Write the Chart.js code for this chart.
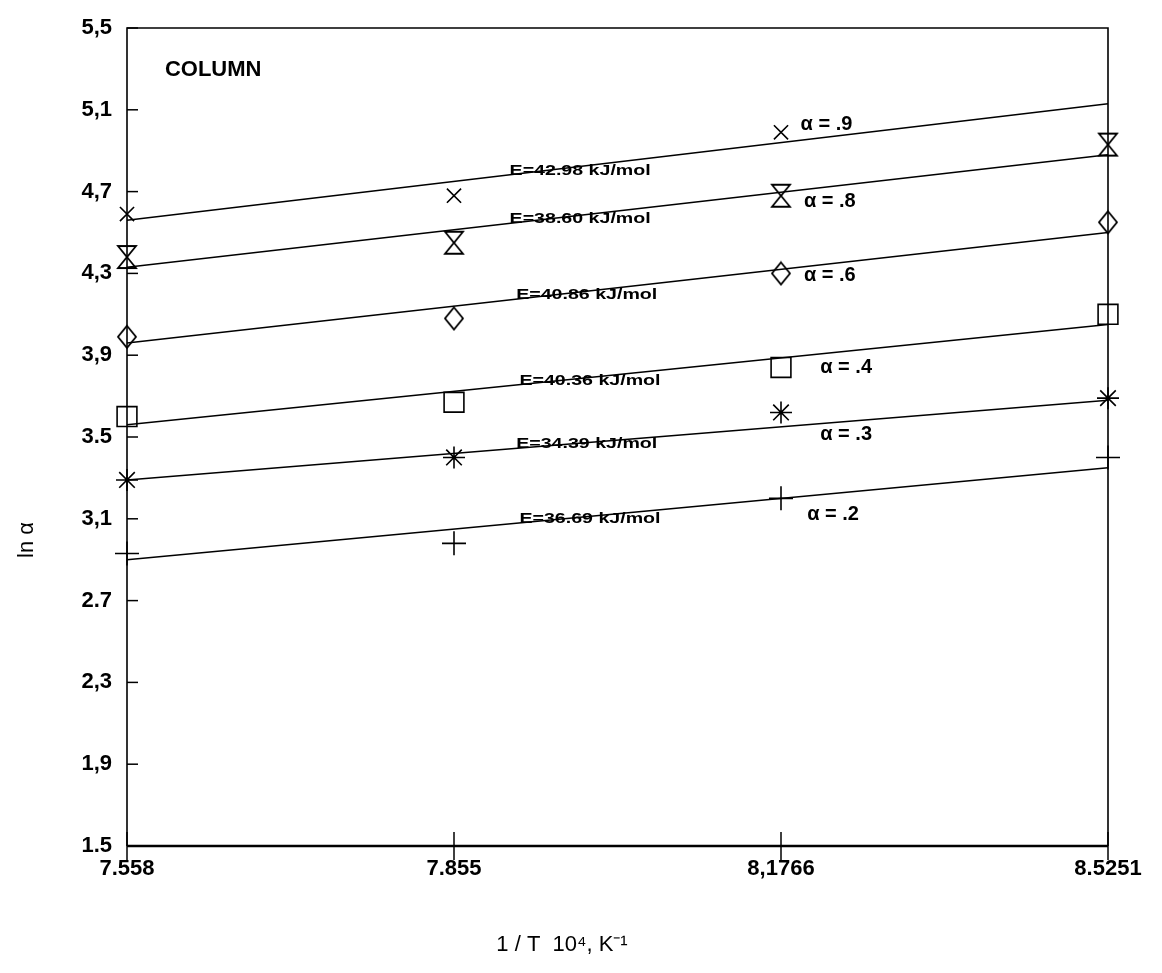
<!DOCTYPE html>
<html>
<head>
<meta charset="utf-8">
<title>ln alpha vs 1/T - column</title>
<script src="https://cdn.jsdelivr.net/npm/chart.js@4.4.1/dist/chart.umd.min.js"></script>
<style>
  html, body { margin: 0; padding: 0; background: #fff; }
  #wrap { width: 1162px; height: 973px; }
</style>
</head>
<body>
<div id="wrap"><canvas id="grafico" width="1162" height="973"></canvas></div>
<script>
// ---- data ----
const xLabels = ["7.558", "7.855", "8,1766", "8.5251"];
const yTickLabels = ["1.5", "1,9", "2,3", "2.7", "3,1", "3.5", "3,9", "4,3", "4,7", "5,1", "5,5"];

const alfa9 = [4.59, 4.68, 4.99, null];
const alfa8 = [4.38, 4.45, 4.68, 4.93];
const alfa6 = [3.99, 4.08, 4.30, 4.55];
const alfa4 = [3.60, 3.67, 3.84, 4.10];
const alfa3 = [3.29, 3.40, 3.62, 3.69];
const alfa2 = [2.93, 2.98, 3.20, 3.40];

// fitted lines: value at first and last category
const retaInicio = [4.56, 4.33, 3.96, 3.56, 3.29, 2.90];
const retaFim = [5.13, 4.88, 4.50, 4.05, 3.68, 3.35];

const nomesAlfa = ["α = .9", "α = .8", "α = .6", "α = .4", "α = .3", "α = .2"];
const energias = ["E=42.98 kJ/mol", "E=38.60 kJ/mol", "E=40.86 kJ/mol", "E=40.36 kJ/mol", "E=34.39 kJ/mol", "E=36.69 kJ/mol"];

// label placement (x as category index, y in axis units)
const posEnergiaX = [1.17, 1.17, 1.19, 1.20, 1.19, 1.20];
const posAlfa = [[2.06, 5.03], [2.07, 4.65], [2.07, 4.29], [2.12, 3.84], [2.12, 3.51], [2.08, 3.12]];

// ---- custom markers ----
function criarAmpulheta() {
    const c = document.createElement("canvas");
    c.width = 24; c.height = 26;
    const g = c.getContext("2d");
    g.strokeStyle = "#000";
    g.lineWidth = 1.8;
    g.beginPath();
    g.moveTo(3, 2); g.lineTo(21, 2); g.lineTo(12, 13); g.closePath();
    g.moveTo(12, 13); g.lineTo(21, 24); g.lineTo(3, 24); g.closePath();
    g.stroke();
    return c;
}

function criarLosango() {
    const c = document.createElement("canvas");
    c.width = 22; c.height = 26;
    const g = c.getContext("2d");
    g.strokeStyle = "#000";
    g.lineWidth = 1.8;
    g.beginPath();
    g.moveTo(11, 2); g.lineTo(20, 13); g.lineTo(11, 24); g.lineTo(2, 13); g.closePath();
    g.stroke();
    return c;
}

const series = [alfa9, alfa8, alfa6, alfa4, alfa3, alfa2];
const estilos = ["crossRot", criarAmpulheta(), criarLosango(), "rect", "star", "cross"];
const raios = [10, 12, 11, 14, 11, 12];

const datasets = [];
series.forEach((s, i) => {
    datasets.push({
        label: nomesAlfa[i],
        data: s,
        showLine: false,
        pointStyle: estilos[i],
        pointRadius: raios[i],
        pointBorderWidth: 1.6,
        borderColor: "#000",
        backgroundColor: "rgba(0,0,0,0)"
    });
    const reta = xLabels.map(() => null);
    reta[0] = retaInicio[i];
    reta[xLabels.length - 1] = retaFim[i];
    datasets.push({
        label: "fit " + nomesAlfa[i],
        data: reta,
        spanGaps: true,
        borderColor: "#000",
        borderWidth: 1.5,
        pointRadius: 0
    });
});

// frame, tick marks, labels, axis titles
const moldura = {
    id: "moldura",
    afterDraw(chart) {
        const { ctx, chartArea: a, scales } = chart;
        const x = scales.x, y = scales.y;
        ctx.save();
        ctx.strokeStyle = "#000";

        ctx.lineWidth = 1.6;
        ctx.beginPath();
        ctx.moveTo(a.left, a.bottom); ctx.lineTo(a.left, a.top);
        ctx.lineTo(a.right, a.top); ctx.lineTo(a.right, a.bottom);
        ctx.stroke();
        ctx.lineWidth = 2.6;
        ctx.beginPath();
        ctx.moveTo(a.left, a.bottom); ctx.lineTo(a.right, a.bottom);
        ctx.stroke();

        // y ticks pointing inward
        ctx.lineWidth = 1.5;
        y.ticks.forEach(t => {
            const py = y.getPixelForValue(t.value);
            ctx.beginPath();
            ctx.moveTo(a.left, py); ctx.lineTo(a.left + 11, py);
            ctx.stroke();
        });
        // x ticks crossing the axis
        xLabels.forEach((l, i) => {
            const px = x.getPixelForValue(i);
            ctx.beginPath();
            ctx.moveTo(px, a.bottom - 14); ctx.lineTo(px, a.bottom + 14);
            ctx.stroke();
        });

        ctx.fillStyle = "#000";
        // energy labels sitting on the fitted lines
        ctx.textBaseline = "alphabetic";
        ctx.textAlign = "left";
        ctx.font = "bold 14px 'Liberation Sans', Arial, sans-serif";
        energias.forEach((txt, i) => {
            const fx = posEnergiaX[i];
            const v = retaInicio[i] + (retaFim[i] - retaInicio[i]) * fx / (xLabels.length - 1);
            const px = x.getPixelForValue(fx);
            const py = y.getPixelForValue(v);
            ctx.save();
            ctx.translate(px, py);
            ctx.scale(1.4, 1);
            ctx.fillText(txt, 0, 0);
            ctx.restore();
        });

        // alpha labels
        ctx.textBaseline = "middle";
        ctx.font = "bold 20px 'Liberation Sans', Arial, sans-serif";
        nomesAlfa.forEach((txt, i) => {
            ctx.fillText(txt, x.getPixelForValue(posAlfa[i][0]), y.getPixelForValue(posAlfa[i][1]));
        });

        // COLUMN
        ctx.font = "bold 22px 'Liberation Sans', Arial, sans-serif";
        ctx.fillText("COLUMN", x.getPixelForValue(0.116), y.getPixelForValue(5.295));

        // axis titles
        ctx.font = "22px 'Liberation Sans', Arial, sans-serif";
        ctx.textAlign = "center";
        ctx.fillText("1 / T  10⁴, K⁻¹", 562, 945);
        ctx.save();
        ctx.translate(27, 540);
        ctx.rotate(-Math.PI / 2);
        ctx.fillText("ln α", 0, 0);
        ctx.restore();

        ctx.restore();
    }
};

new Chart(document.getElementById("grafico"), {
    type: "line",
    data: { labels: xLabels, datasets },
    options: {
        responsive: false,
        animation: false,
        layout: { padding: { top: 28, right: 54, left: 0, bottom: 0 } },
        plugins: { legend: { display: false }, tooltip: { enabled: false } },
        scales: {
            x: {
                type: "category",
                offset: false,
                grid: { display: false },
                border: { display: false },
                ticks: {
                    autoSkip: false, maxRotation: 0, padding: 2, color: "#000",
                    font: { family: "'Liberation Sans', Arial, sans-serif", size: 22, weight: "bold" }
                },
                afterFit(s) { s.height = 127; }
            },
            y: {
                min: 1.5,
                max: 5.5,
                grid: { display: false },
                border: { display: false },
                ticks: {
                    stepSize: 0.4, padding: 7, color: "#000",
                    font: { family: "'Liberation Sans', Arial, sans-serif", size: 22, weight: "bold" },
                    callback: (v, i) => yTickLabels[i]
                },
                afterFit(s) { s.width = 127; }
            }
        }
    },
    plugins: [moldura]
});
</script>
</body>
</html>
